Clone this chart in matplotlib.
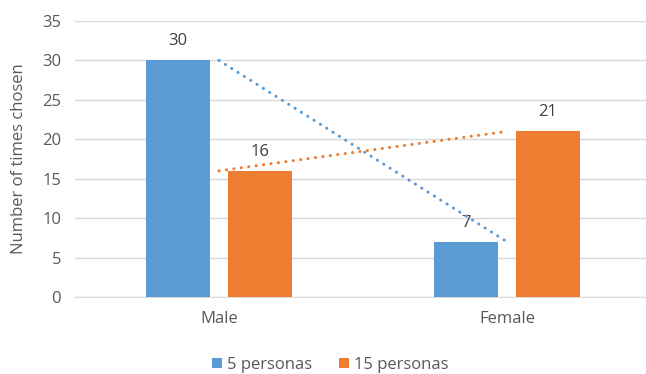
import matplotlib.pyplot as plt
import numpy as np

plt.rcParams['font.family'] = ['Open Sans', 'DejaVu Sans']

groups = ['Male', 'Female']
series_names = ['5 personas', '15 personas']
five = [30, 7]
fifteen = [16, 21]
colors = ['#5B9BD5', '#ED7D31']

fig = plt.figure(figsize=(6.46, 3.74), dpi=100)
ax = fig.add_axes([75 / 646, 77 / 374, (646 - 75) / 646, 276 / 374])

x = np.arange(len(groups))
w = 0.222
off = 0.1424
b1 = ax.bar(x - off, five, w, color=colors[0], label=series_names[0], zorder=3)
b2 = ax.bar(x + off, fifteen, w, color=colors[1], label=series_names[1], zorder=3)

# linear trendlines through the category centres
for vals, c in [(five, colors[0]), (fifteen, colors[1])]:
    k, b = np.polyfit(x, vals, 1)
    ax.plot(x, k * x + b, color=c, lw=2.2, ls=(0, (0.05, 2.4)),
            dash_capstyle='round', zorder=4)

for bars, vals in [(b1, five), (b2, fifteen)]:
    for r, v in zip(bars, vals):
        ax.annotate(str(v), (r.get_x() + r.get_width() / 2, v),
                    xytext=(0, 8), textcoords='offset points',
                    ha='center', va='bottom', fontsize=12, color='#404040')

ax.set_xlim(-0.5, (646 - 219) / 288)
ax.set_ylim(0, 35)
ax.set_yticks(range(0, 36, 5))
ax.set_xticks(x)
ax.set_xticklabels(groups)
ax.yaxis.grid(True, color='#D9D9D9', lw=1, zorder=0)
for s in ['top', 'right', 'left']:
    ax.spines[s].set_visible(False)
ax.spines['bottom'].set_color('#D9D9D9')
ax.tick_params(length=0, labelsize=12, labelcolor='#595959')
ax.tick_params(axis='x', pad=10)
ax.tick_params(axis='y', pad=10)
ax.set_ylabel('Number of times chosen', fontsize=12, color='#595959', labelpad=11)

fig.legend(handles=[b1, b2], loc='center', bbox_to_anchor=(330 / 646, 1 - 365 / 374),
           ncol=2, frameon=False, fontsize=12, handlelength=0.6, handleheight=0.6,
           handletextpad=0.3, columnspacing=1.6, labelcolor='#595959')

fig.savefig('out.png', dpi=100)
